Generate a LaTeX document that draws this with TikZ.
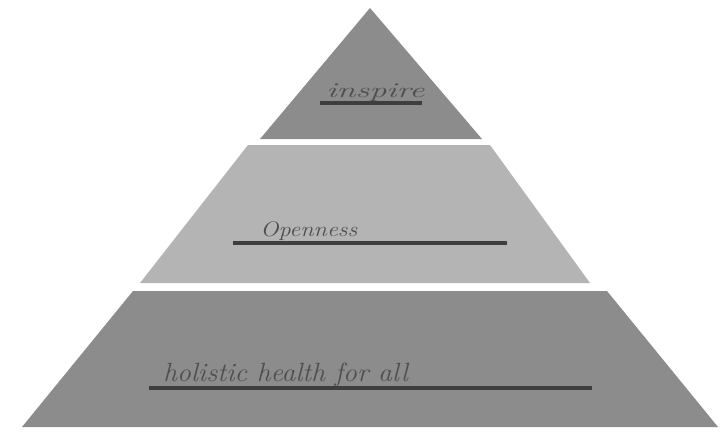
\documentclass[tikz,border=0pt]{standalone}
\usepackage{xcolor}

\definecolor{tierdark}{RGB}{140,140,140}
\definecolor{tierlight}{RGB}{180,180,180}
\definecolor{inkline}{RGB}{62,62,62}
\definecolor{inktext}{RGB}{78,78,82}

\tikzset{
	tier/.style={draw=none},
	underline/.style={draw=inkline, line width=2.3pt},
	scrawl/.style={inner sep=0pt, text=inktext, font=\fontsize{15}{17}\selectfont\itshape}
}

\begin{document}
\begin{tikzpicture}[x=0.02cm, y=-0.02cm]
			\useasboundingbox[fill=white] (0, 0) rectangle (720, 436);
			\fill[tier, tierdark] (370, 8) -- (482, 139) -- (260, 139) -- cycle;
			\fill[tier, tierlight] (248, 145) -- (490, 145) -- (590, 283) -- (140, 283) -- cycle;
			\fill[tier, tierdark] (133, 291) -- (607, 291) -- (718, 427) -- (22, 427) -- cycle;
			\coordinate (L1a) at (320, 103);
			\coordinate (L1b) at (422, 103);
			\coordinate (L2a) at (233, 243);
			\coordinate (L2b) at (507, 243);
			\coordinate (L3a) at (149, 388);
			\coordinate (L3b) at (592, 388);
			\draw[underline] (L1a) -- (L1b);
			\draw[underline] (L2a) -- (L2b);
			\draw[underline] (L3a) -- (L3b);
			\node[scrawl, anchor=base west, xscale=1.3, yscale=0.8] (T1) at (326, 97){inspire};
			\node[scrawl, anchor=base west, xscale=0.92, yscale=0.8] (T2) at (260, 236){Openness};
			\node[scrawl, anchor=base west, xscale=1.05] (T3) at (163, 381){holistic health for all};
		\end{tikzpicture}
\end{document}
